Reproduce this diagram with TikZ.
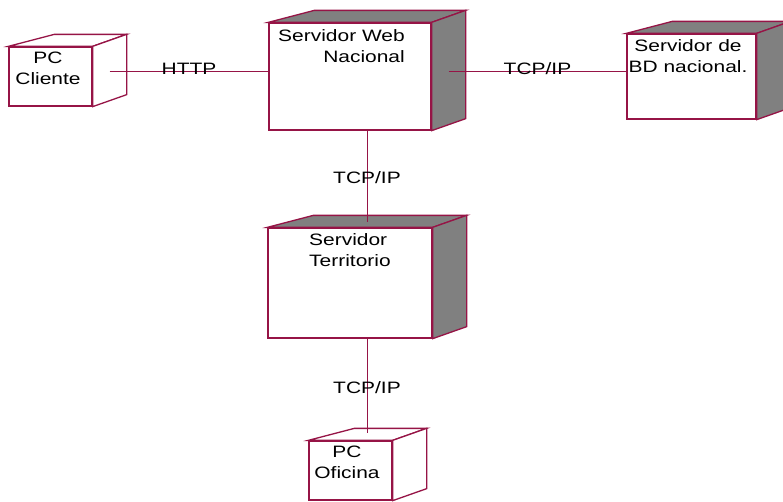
\documentclass[tikz,border=0pt]{standalone}
\usepackage{fontspec}
\setmainfont{Liberation Sans}[FakeStretch=1.27]
\definecolor{edge}{RGB}{150,20,70}
\definecolor{shade}{RGB}{128,128,128}
\newcommand\cubeback[2]{%
  \draw[edge3d, fill=#2] (#1.north west) -- ++(46,-12) -- ([shift={(34,-12)}]#1.north east) -- (#1.north east) -- cycle;
  \draw[edge3d, fill=#2] (#1.north east) -- ([shift={(34,-12)}]#1.north east) -- ([shift={(34,-12)}]#1.south east) -- (#1.south east) -- cycle;}
\begin{document}
\begin{tikzpicture}[x=1pt,y=-1pt,
  face/.style={draw=edge, line width=1.3pt, fill=white, inner sep=0pt},
  edge3d/.style={draw=edge, line width=1.3pt, line join=miter},
  lbl/.style={font=\fontsize{16.5}{21}\selectfont, inner sep=0pt, text=black},
  conn/.style={draw=edge, line width=1pt},
  edgelbl/.style={font=\fontsize{16.5}{21}\selectfont, inner sep=0pt, anchor=base, text=black}]
\useasboundingbox (0,0) rectangle (783,501);
\clip (0,0) rectangle (783,501);
% front faces
\node[face, minimum width=83pt, minimum height=59pt] (cli) at (50.5,76.5) {};
\node[face, minimum width=162pt, minimum height=107pt] (web) at (350,76.5) {};
\node[face, minimum width=129pt, minimum height=85pt] (bd) at (691.5,76.5) {};
\node[face, minimum width=164pt, minimum height=110pt] (ter) at (350,283) {};
\node[face, minimum width=83pt, minimum height=59pt] (ofi) at (350.5,470.5) {};
% 3D parts
\cubeback{cli}{white}
\cubeback{web}{shade}
\cubeback{bd}{shade}
\cubeback{ter}{shade}
\cubeback{ofi}{white}
% texts (base anchor = baseline of the last line)
\node[lbl, anchor=base, align=center] (cliT) at (48,84) {PC\\Cliente};
\node[lbl, anchor=base east, align=right] (webT) at (405,62.7) {Servidor Web\\Nacional};
\node[lbl, anchor=base, align=center] (bdT) at (688,72) {Servidor de\\BD nacional.};
\node[lbl, anchor=base west, align=left] (terT) at (309,266) {Servidor\\Territorio};
\node[lbl, anchor=base, align=center] (ofiT) at (347,478) {PC\\Oficina};
% connectors
\draw[conn] ([xshift=17pt,yshift=5.5pt]cli.east) -- node[edgelbl, yshift=-3.5pt] (lblA) {HTTP} ([yshift=5.5pt]web.west);
\draw[conn] ([xshift=17pt,yshift=5.5pt]web.east) -- node[edgelbl, yshift=-3.5pt] (lblB) {TCP/IP} ([yshift=5.5pt]bd.west);
\draw[conn] ([xshift=17pt]web.south) -- node[edgelbl, yshift=-6.5pt] (lblC) {TCP/IP} ([xshift=17pt,yshift=5pt]ter.north);
\draw[conn] ([xshift=17pt]ter.south) -- node[edgelbl, yshift=-7pt] (lblD) {TCP/IP} ([xshift=16.5pt,yshift=7pt]ofi.north);
\end{tikzpicture}
\end{document}
